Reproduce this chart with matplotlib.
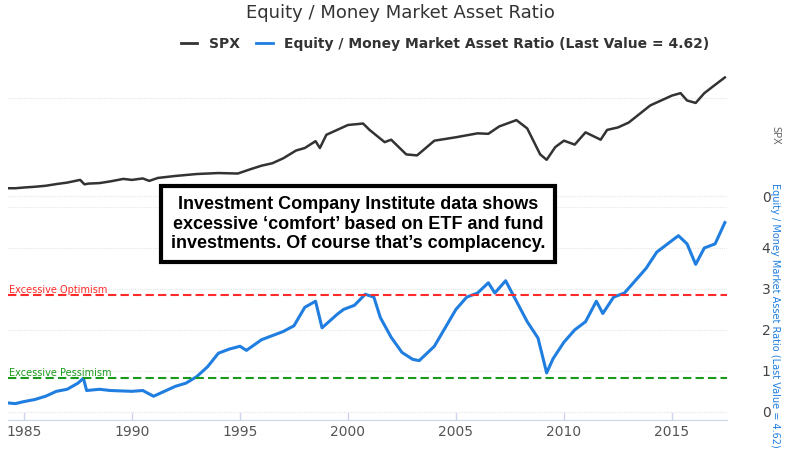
import matplotlib
matplotlib.use("Agg")
import matplotlib.pyplot as plt
from matplotlib.lines import Line2D

spx_t = [1984.2,1984.6,1985.0,1985.5,1986.0,1986.5,1987.0,1987.6,1987.8,1988.0,1988.5,1989.0,1989.6,1990.0,1990.5,1990.8,1991.2,1992.0,1993.0,1994.0,1994.9,1995.5,1996.0,1996.5,1997.0,1997.6,1998.0,1998.5,1998.7,1999.0,1999.5,2000.0,2000.7,2001.0,2001.7,2002.0,2002.7,2003.2,2004.0,2005.0,2006.0,2006.5,2007.0,2007.8,2008.3,2008.9,2009.2,2009.6,2010.0,2010.5,2011.0,2011.7,2012.0,2012.5,2013.0,2014.0,2015.0,2015.4,2015.7,2016.1,2016.5,2017.0,2017.45]
spx_v = [160,160,175,190,210,245,275,330,240,255,265,300,350,330,360,310,370,410,450,470,460,550,620,670,770,930,980,1120,980,1250,1350,1450,1480,1350,1100,1150,850,830,1130,1200,1280,1270,1420,1550,1380,850,740,1000,1130,1050,1300,1150,1350,1400,1500,1850,2050,2100,1950,1900,2100,2270,2420]

ratio_t = [1984.2,1984.6,1985.0,1985.5,1986.0,1986.5,1987.0,1987.5,1987.75,1987.9,1988.5,1989.0,1990.0,1990.5,1991.0,1991.5,1992.0,1992.5,1993.0,1993.5,1994.0,1994.5,1995.0,1995.3,1996.0,1997.0,1997.5,1998.0,1998.5,1998.8,1999.5,1999.8,2000.3,2000.8,2001.2,2001.5,2002.0,2002.5,2003.0,2003.3,2004.0,2005.0,2005.5,2006.0,2006.5,2006.8,2007.3,2007.8,2008.3,2008.8,2009.2,2009.5,2010.0,2010.5,2011.0,2011.5,2011.8,2012.3,2012.8,2013.3,2013.8,2014.3,2014.8,2015.3,2015.7,2016.1,2016.5,2017.0,2017.45]
ratio_v = [0.22,0.2,0.25,0.3,0.38,0.5,0.55,0.7,0.82,0.52,0.55,0.52,0.5,0.52,0.38,0.5,0.62,0.7,0.86,1.1,1.43,1.53,1.6,1.5,1.76,1.96,2.1,2.55,2.7,2.05,2.38,2.5,2.6,2.87,2.8,2.3,1.82,1.45,1.28,1.25,1.6,2.5,2.8,2.9,3.15,2.9,3.2,2.7,2.2,1.8,0.95,1.3,1.7,2.0,2.2,2.7,2.4,2.8,2.9,3.2,3.5,3.9,4.1,4.3,4.1,3.6,4.0,4.1,4.62]

optimism = 2.85
pessimism = 0.83
xticks = [1985,1990,1995,2000,2005,2010,2015]

W, H = 800, 461
fig = plt.figure(figsize=(8, 4.61), dpi=100)
x0, x1 = 1984.26, 2017.55
L = 8/W; R = 727/W
ax1 = fig.add_axes([L, 1-200/H, R-L, 140/H])
ax2 = fig.add_axes([L, 1-420/H, R-L, 213/H])

blue = "#1f7ee0"
ax1.plot(spx_t, spx_v, color="#333333", lw=1.8)
ax1.set_ylim(-80, 2776)
ax1.set_yticks([0, 2000])
ax1.set_yticklabels(["0", ""])
ax2.plot(ratio_t, ratio_v, color=blue, lw=2.2)
ax2.axhline(optimism, color="#ff2a2a", ls=(0,(4,2)), lw=1.5)
ax2.axhline(pessimism, color="#1a9a1a", ls=(0,(4,2)), lw=1.5)
ax2.text(x0+0.05, optimism+0.05, "Excessive Optimism", color="#ff2a2a", fontsize=7)
ax2.text(x0+0.05, pessimism+0.05, "Excessive Pessimism", color="#1a9a1a", fontsize=7)
ax2.set_ylim(-0.2, 5.0)
ax2.set_yticks([0,1,2,3,4,5])
ax2.set_yticklabels(["0","1","2","3","4",""])

for ax in (ax1, ax2):
    ax.set_xlim(x0, x1)
    for s in ("top","left","right"):
        ax.spines[s].set_visible(False)
    ax.yaxis.tick_right()
    ax.tick_params(axis="y", length=0, labelsize=10, colors="#444444", pad=25)
    ax.grid(axis="y", color="#e6e6e6", lw=0.8, ls=(0,(1,1)))
ax1.spines["bottom"].set_visible(False)
ax1.set_xticks([])
ax2.spines["bottom"].set_color("#ccd6eb")
ax2.set_xticks(xticks)
ax2.tick_params(axis="x", length=0, labelsize=10, labelcolor="#555555")
for t in xticks:
    ax2.axvline(t, ymin=0, ymax=0.035, color="#ccd6eb", lw=1)

fig.text(775/W, 1-135/H, "SPX", rotation=270, ha="center", va="center", fontsize=7, color="#666666")
fig.text(775/W, 1-315/H, "Equity / Money Market Asset Ratio (Last Value = 4.62)", rotation=270,
         ha="center", va="center", fontsize=7, color=blue)
fig.text(400/W, 1-13/H, "Equity / Money Market Asset Ratio", ha="center", va="center", fontsize=13, color="#333333")
handles = [Line2D([],[],color="#333333",lw=2), Line2D([],[],color=blue,lw=2)]
fig.legend(handles, ["SPX", "Equity / Money Market Asset Ratio (Last Value = 4.62)"],
           loc="center", bbox_to_anchor=(445/W, 1-44/H), ncol=2, frameon=False,
           prop={"weight":"bold","size":10}, labelcolor="#333333", handlelength=1.2, columnspacing=1.2)
fig.text(358/W, 1-224/H,
         "Investment Company Institute data shows\nexcessive \u2018comfort\u2019 based on ETF and fund\ninvestments. Of course that\u2019s complacency.",
         ha="center", va="center", fontsize=13, weight="bold", family="Liberation Sans", linespacing=1.2,
         bbox=dict(boxstyle="square,pad=0.55", fc="white", ec="black", lw=3))
fig.savefig("out.png", dpi=100)
